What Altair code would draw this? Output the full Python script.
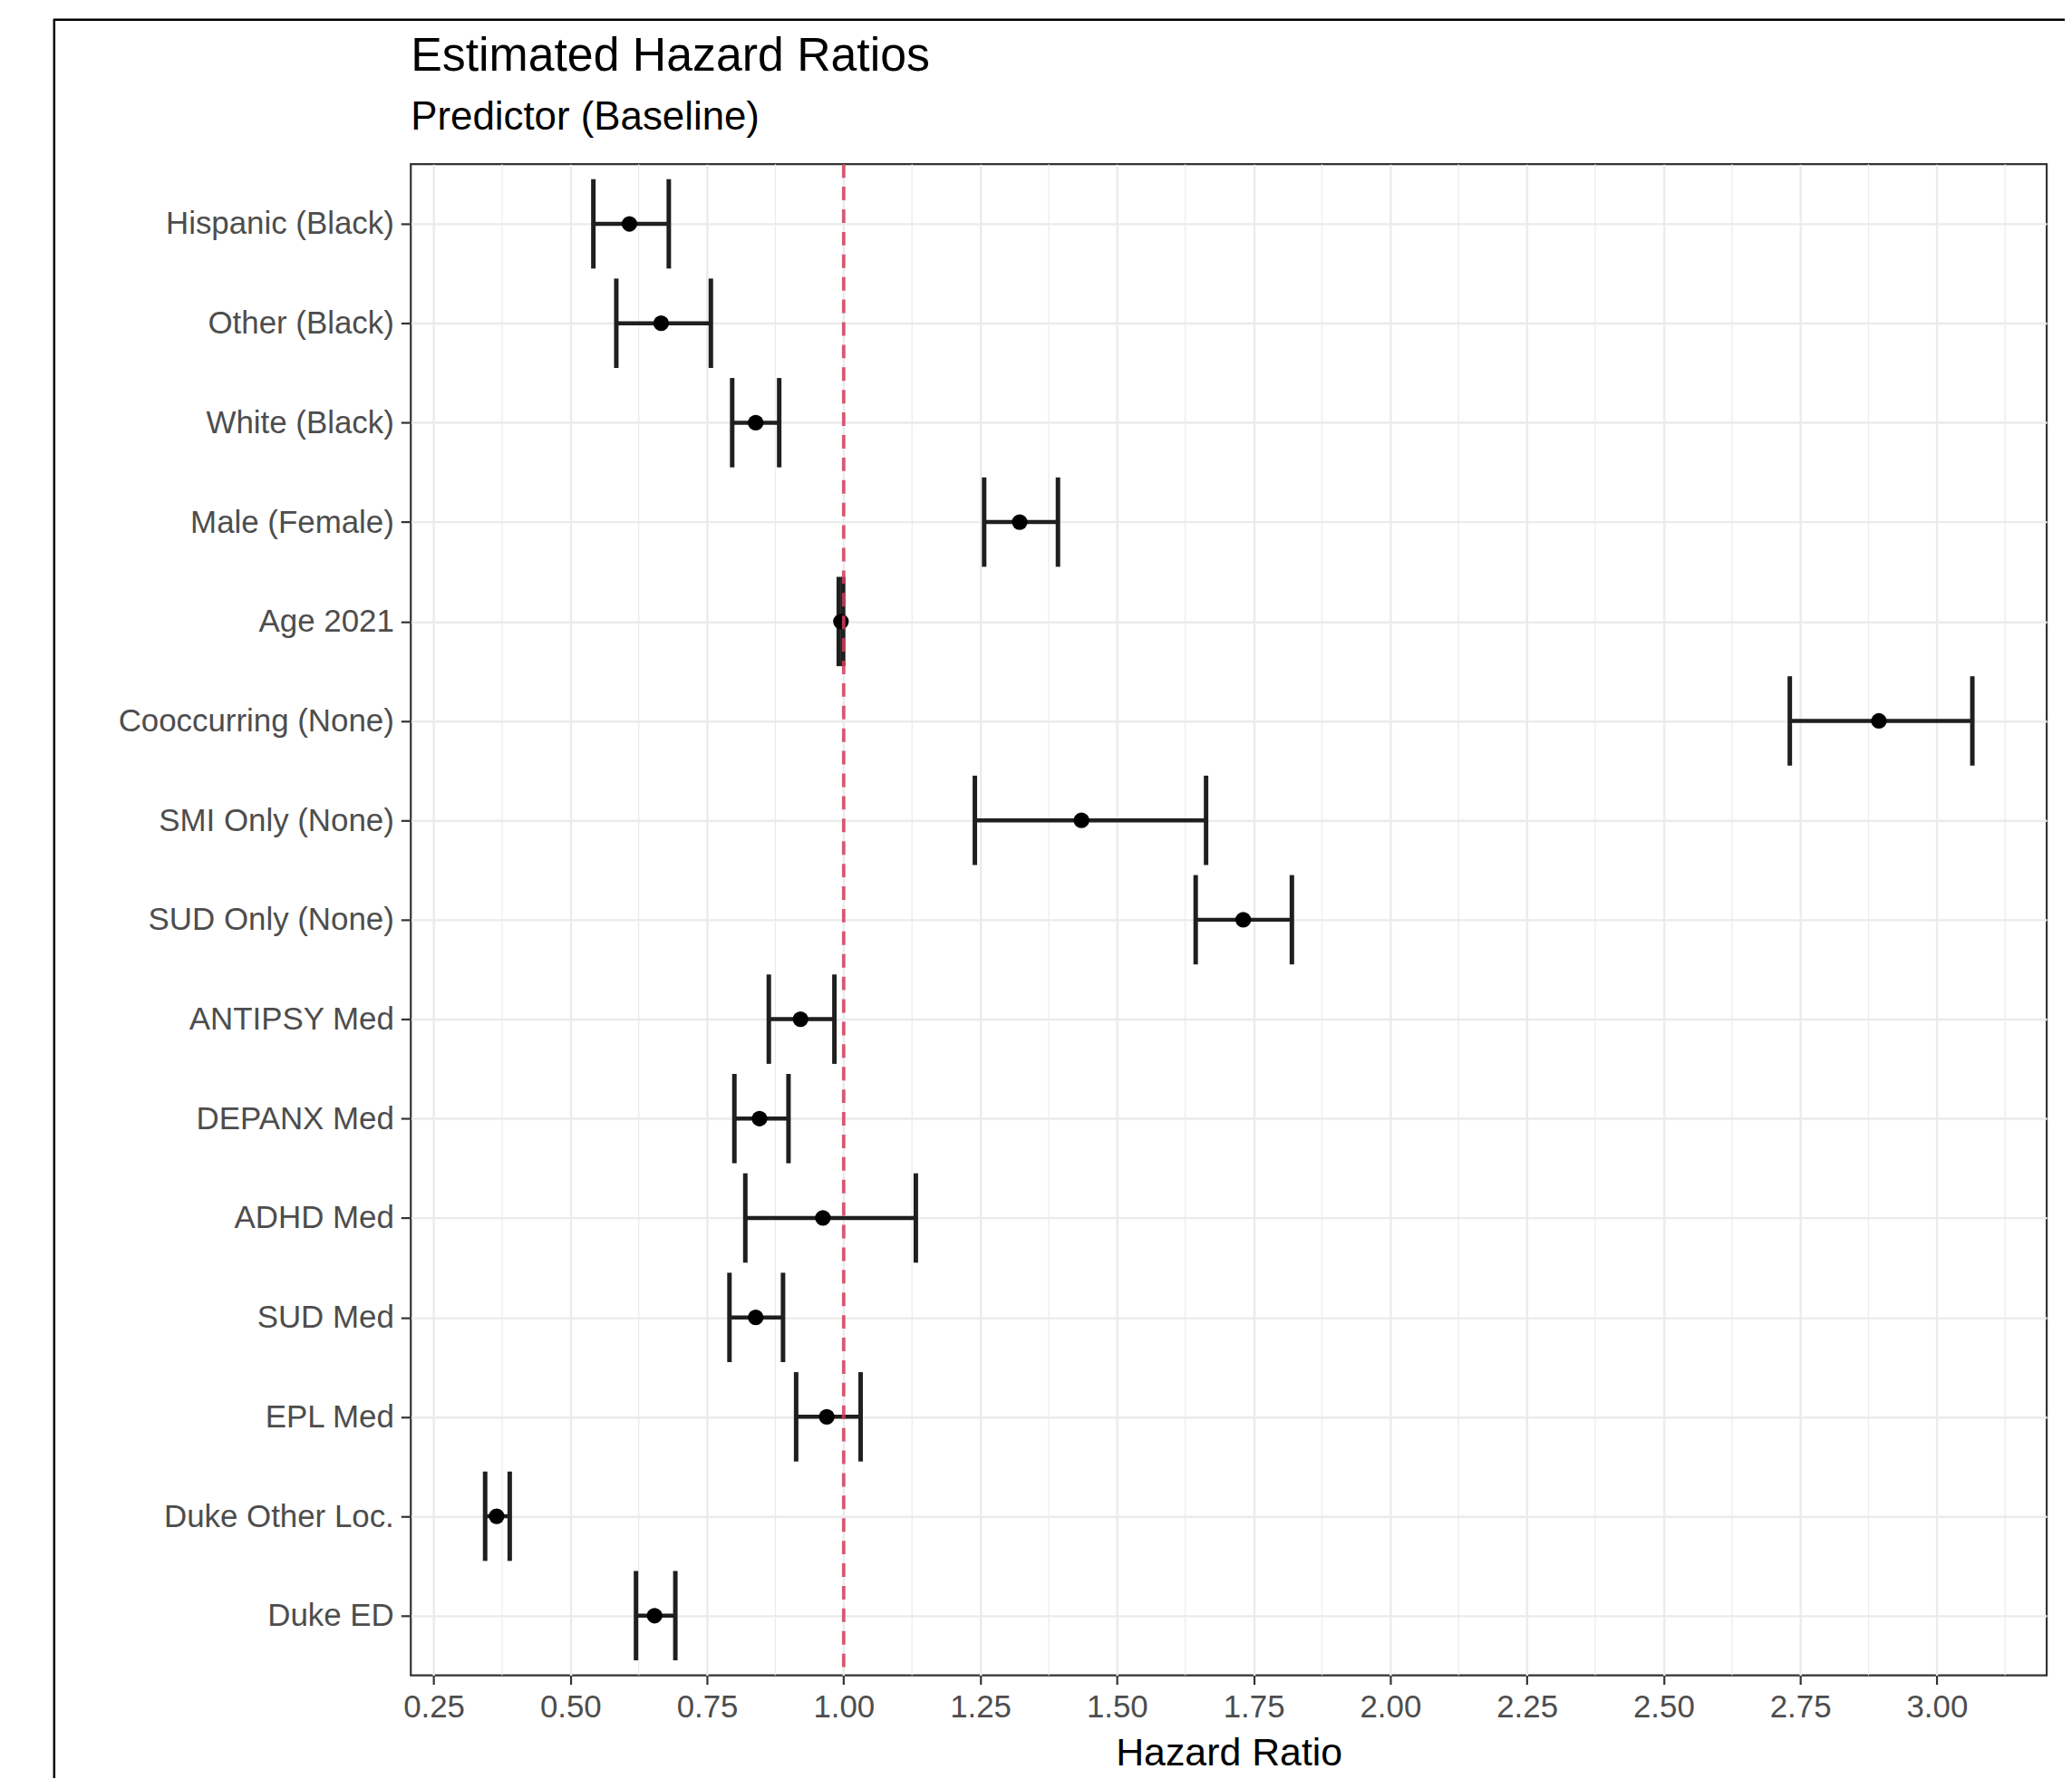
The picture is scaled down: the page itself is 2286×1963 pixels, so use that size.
import altair as alt
import pandas as pd

categories = ["Hispanic (Black)", "Other (Black)", "White (Black)", "Male (Female)",
              "Age 2021", "Cooccurring (None)", "SMI Only (None)", "SUD Only (None)",
              "ANTIPSY Med", "DEPANX Med", "ADHD Med", "SUD Med", "EPL Med",
              "Duke Other Loc.", "Duke ED"]
estimate = [0.608, 0.666, 0.839, 1.322, 0.995, 2.894, 1.435, 1.731,
            0.921, 0.846, 0.962, 0.839, 0.969, 0.365, 0.654]
lower = [0.542, 0.584, 0.796, 1.257, 0.991, 2.731, 1.240, 1.644,
         0.863, 0.800, 0.820, 0.791, 0.913, 0.344, 0.620]
upper = [0.680, 0.757, 0.882, 1.392, 0.999, 3.065, 1.663, 1.820,
         0.983, 0.899, 1.132, 0.889, 1.031, 0.389, 0.692]
major_ticks = [0.25, 0.50, 0.75, 1.00, 1.25, 1.50, 1.75, 2.00, 2.25, 2.50, 2.75, 3.00]
minor_grid = [0.375, 0.625, 0.875, 1.125, 1.375, 1.625, 1.875, 2.125, 2.375, 2.625, 2.875, 3.125]
reference_value = [1.0]

df = pd.DataFrame({"predictor": categories, "hr": estimate, "lo": lower, "hi": upper})
minor_df = pd.DataFrame({"v": minor_grid})
ref_df = pd.DataFrame({"v": reference_value})
one = pd.DataFrame({"a": [0]})

FONT = "Liberation Sans"
W, H = 1812, 1674

xscale = alt.Scale(domain=[0.208, 3.201], nice=False, zero=False)
yscale = alt.Scale(type="point", padding=0.6, domain=categories)

xaxis = alt.Axis(values=major_ticks, format=".2f", grid=True, gridColor="#ebebeb",
                 gridWidth=2.4, tickColor="#333333", tickWidth=2.2, tickSize=10,
                 domain=False, labelFont=FONT, labelFontSize=35, labelColor="#4d4d4d",
                 labelPadding=8, titleFont=FONT, titleFontSize=43, titleColor="#000000",
                 titleFontWeight="normal", titlePadding=12)
yaxis = alt.Axis(grid=True, gridColor="#ebebeb", gridWidth=2.4, tickColor="#333333",
                 tickWidth=2.2, tickSize=11, domain=False, labelFont=FONT,
                 labelFontSize=35, labelColor="#4d4d4d", labelPadding=8, labelLimit=1000)

base = alt.Chart(df)

minor = alt.Chart(minor_df).mark_rule(color="#ebebeb", strokeWidth=1.2).encode(
    x=alt.X("v:Q", scale=xscale, axis=xaxis, title="Hazard Ratio"))

bars = base.mark_rule(color="#1f1f1f", strokeWidth=4.5).encode(
    x=alt.X("lo:Q", scale=xscale, axis=xaxis, title="Hazard Ratio"),
    x2="hi:Q",
    y=alt.Y("predictor:N", scale=yscale, axis=yaxis, sort=categories, title=None))

cap_lo = base.mark_tick(color="#1f1f1f", thickness=5, size=99, orient="vertical",
                        opacity=1).encode(
    x=alt.X("lo:Q", scale=xscale),
    y=alt.Y("predictor:N", scale=yscale, sort=categories))
cap_hi = base.mark_tick(color="#1f1f1f", thickness=5, size=99, orient="vertical",
                        opacity=1).encode(
    x=alt.X("hi:Q", scale=xscale),
    y=alt.Y("predictor:N", scale=yscale, sort=categories))

points = base.mark_point(filled=True, color="#000000", opacity=1, size=300, shape="circle").encode(
    x=alt.X("hr:Q", scale=xscale),
    y=alt.Y("predictor:N", scale=yscale, sort=categories))

ref = alt.Chart(ref_df).mark_rule(color="#d0405a", strokeWidth=3.8, strokeDash=[15, 10],
                                  opacity=0.85).encode(x=alt.X("v:Q", scale=xscale))

frame_left = alt.Chart(one).mark_rule(color="#000000", strokeWidth=2.5).encode(
    x=alt.value(-395), y=alt.value(-160), y2=alt.value(1800))
frame_top = alt.Chart(one).mark_rule(color="#000000", strokeWidth=2.5).encode(
    x=alt.value(-396), x2=alt.value(1900), y=alt.value(-160))

chart = alt.layer(minor, bars, cap_lo, cap_hi, points, ref, frame_left, frame_top).properties(
    width=W, height=H,
    title=alt.TitleParams(text="Estimated Hazard Ratios", subtitle="Predictor (Baseline)",
                          anchor="start", frame="group", font=FONT, fontSize=52,
                          fontWeight="normal", color="#000000", subtitleFont=FONT,
                          subtitleFontSize=44, subtitleColor="#000000",
                          subtitlePadding=19, offset=-133),
    autosize=alt.AutoSizeParams(type="none"),
    padding={"left": 447, "top": 170, "right": 20, "bottom": 110},
).configure_view(stroke="#333333", strokeWidth=2.2)

chart.save("out.html", embed_options={"renderer": "svg", "actions": False})
